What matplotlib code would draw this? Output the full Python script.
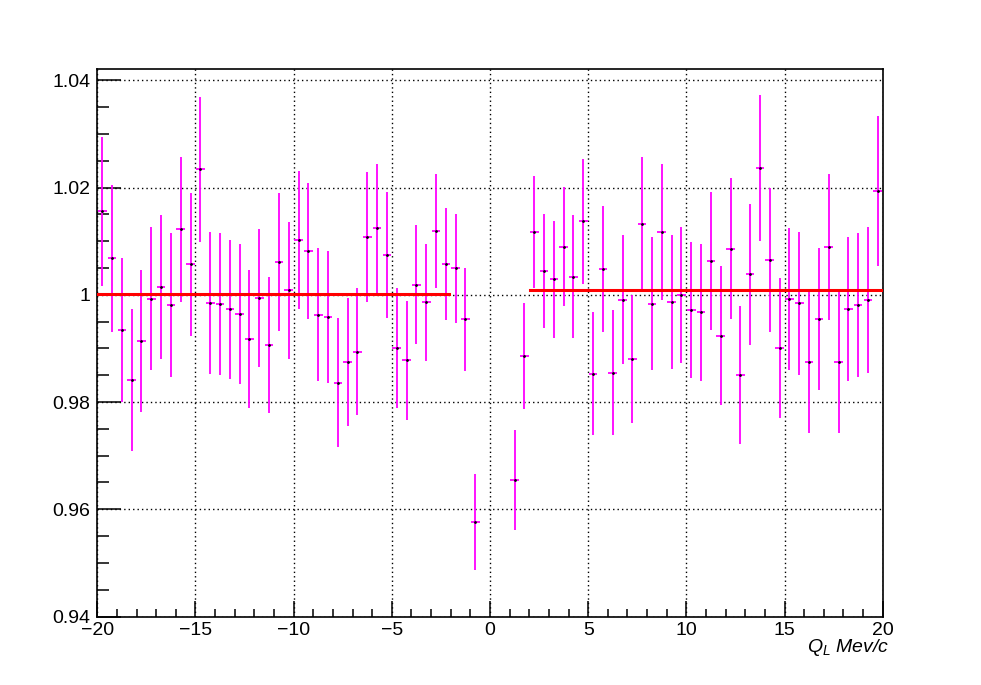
import numpy as np
import matplotlib
matplotlib.use('Agg')
import matplotlib.pyplot as plt
from matplotlib.ticker import MultipleLocator

plt.rcParams['font.family'] = ['Liberation Sans', 'DejaVu Sans']
plt.rcParams['mathtext.fontset'] = 'custom'
plt.rcParams['mathtext.it'] = 'Liberation Sans:italic'
plt.rcParams['mathtext.rm'] = 'Liberation Sans'

# bin centres (bin width 0.5), bins around 0 are empty
q_left = np.arange(-19.75, -0.5, 0.5)
q_right = np.arange(1.25, 20.0, 0.5)

ratio_left = [1.0156, 1.0068, 0.9934, 0.9841, 0.9914, 0.9993, 1.0015, 0.9981,
              1.0122, 1.0057, 1.0234, 0.9985, 0.9983, 0.9973, 0.9964, 0.9917,
              0.9994, 0.9907, 1.0061, 1.0008,
              1.0102, 1.0081, 0.9963, 0.9958, 0.9836, 0.9875, 0.9894, 1.0107,
              1.0124, 1.0074, 0.9901, 0.9878, 1.0019, 0.9986, 1.0119, 1.0057,
              1.0049, 0.9954, 0.9576]
err_left = [0.0139, 0.0137, 0.0134, 0.0132, 0.0133, 0.0134, 0.0134, 0.0134,
            0.0135, 0.0133, 0.0135, 0.0132, 0.0132, 0.0130, 0.0130, 0.0129,
            0.0129, 0.0127, 0.0129, 0.0127,
            0.0128, 0.0127, 0.0124, 0.0123, 0.0120, 0.0119, 0.0119, 0.0121,
            0.0120, 0.0117, 0.0112, 0.0111, 0.0111, 0.0109, 0.0107, 0.0104,
            0.0101, 0.0096, 0.0089]

ratio_right = [0.9655, 0.9886, 1.0117, 1.0044, 1.0029, 1.0090, 1.0034, 1.0137,
               0.9853, 1.0048, 0.9855, 0.9991, 0.9880, 1.0132, 0.9983, 1.0117,
               0.9986, 0.9999,
               0.9971, 0.9967, 1.0063, 0.9924, 1.0086, 0.9850, 1.0038, 1.0237,
               1.0065, 0.9901, 0.9992, 0.9984, 0.9875, 0.9955, 1.0089, 0.9875,
               0.9973, 0.9981, 0.9991, 1.0194]
err_right = [0.0093, 0.0099, 0.0104, 0.0106, 0.0109, 0.0111, 0.0114, 0.0117,
             0.0114, 0.0118, 0.0117, 0.0120, 0.0120, 0.0125, 0.0124, 0.0127,
             0.0125, 0.0127,
             0.0127, 0.0128, 0.0129, 0.0129, 0.0132, 0.0129, 0.0132, 0.0136,
             0.0134, 0.0131, 0.0132, 0.0133, 0.0132, 0.0133, 0.0136, 0.0133,
             0.0134, 0.0135, 0.0136, 0.0140]

# constant fits on both sides
fit_left_range = [-20.0, -2.1]
fit_left_value = 1.0001
fit_right_range = [2.05, 20.0]
fit_right_value = 1.0009

xtick_vals = [-20, -15, -10, -5, 0, 5, 10, 15, 20]
xtick_labels = ['\u221220', '\u221215', '\u221210', '\u22125', '0', '5', '10', '15', '20']
ytick_vals = [0.94, 0.96, 0.98, 1.00, 1.02, 1.04]
ytick_labels = ['0.94', '0.96', '0.98', '1', '1.02', '1.04']

fig = plt.figure(figsize=(9.81, 6.85), dpi=100)
ax = fig.add_axes([0.0992, 0.0999, 0.8006, 0.7994])

q_all = np.concatenate([q_left, q_right])
r_all = np.concatenate([ratio_left, ratio_right])
e_all = np.concatenate([err_left, err_right])

ax.errorbar(q_all, r_all, yerr=e_all, xerr=0.22, fmt='none',
            ecolor='#ff00ff', elinewidth=1.3, capsize=0, zorder=3)
ax.plot(q_all, r_all, ls='none', marker='.', ms=2, color='black', zorder=4)

ax.plot(fit_left_range, [fit_left_value] * 2, color='#ff0000', lw=2.2, zorder=5)
ax.plot(fit_right_range, [fit_right_value] * 2, color='#ff0000', lw=2.2, zorder=5)

ax.set_xlim(-20, 20)
ax.set_ylim(0.94, 1.0421)
ax.set_xticks(xtick_vals)
ax.set_xticklabels(xtick_labels)
ax.set_yticks(ytick_vals)
ax.set_yticklabels(ytick_labels)
ax.xaxis.set_minor_locator(MultipleLocator(1))
ax.yaxis.set_minor_locator(MultipleLocator(0.005))

ax.tick_params(axis='both', which='both', direction='in', labelsize=14,
               top=False, right=False, width=1.1, color='black')
ax.tick_params(axis='x', which='major', length=11.5, pad=4)
ax.tick_params(axis='x', which='minor', length=5.8)
ax.tick_params(axis='y', which='major', length=17, pad=5)
ax.tick_params(axis='y', which='minor', length=8.8)

ax.grid(True, which='major', color='black', linestyle=(0, (1, 2.2)), lw=1.0)
for s in ax.spines.values():
    s.set_linewidth(1.2)

fig.text(889 / 981, 1 - 637 / 685, r'$Q_L$ Mev/c', ha='right', va='top',
         fontsize=14, fontstyle='italic')

fig.savefig('out.png', dpi=100)
